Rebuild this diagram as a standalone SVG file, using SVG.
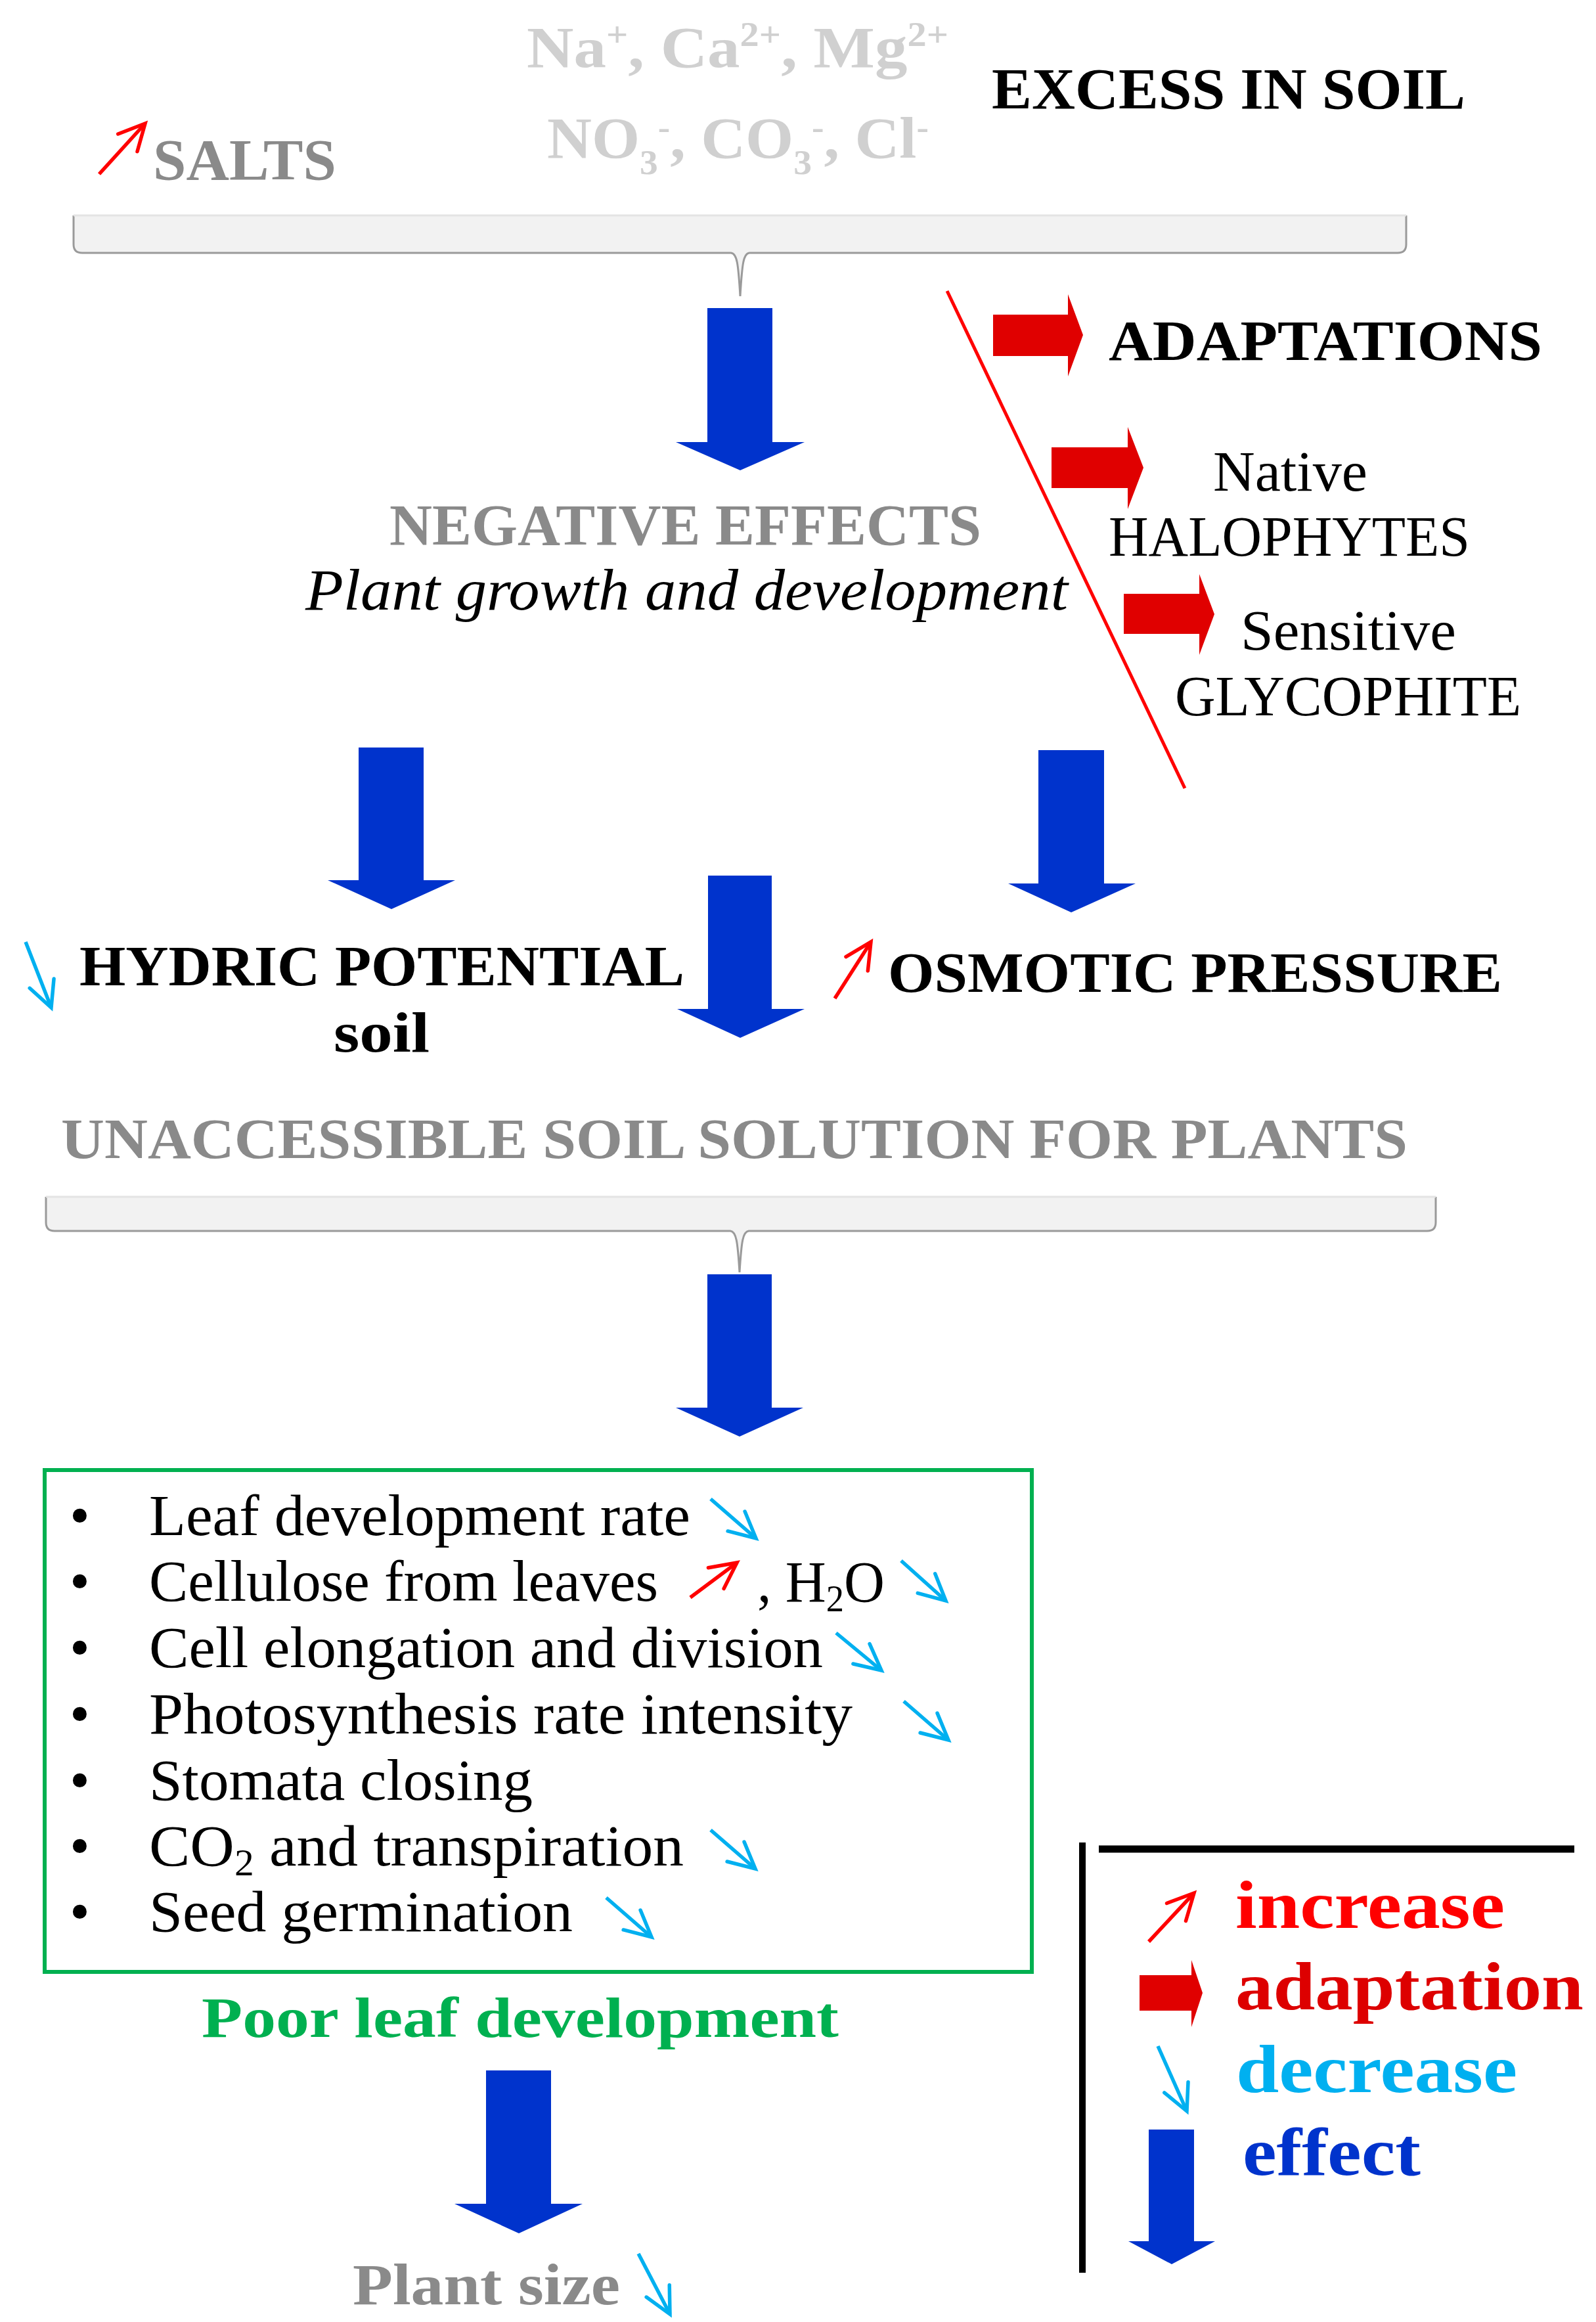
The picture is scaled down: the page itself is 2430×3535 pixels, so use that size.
<svg xmlns="http://www.w3.org/2000/svg" width="2430" height="3535" viewBox="0 0 2430 3535">
<defs>
<style>
.b{font-family:"Liberation Serif",serif;font-weight:bold}
.r{font-family:"Liberation Serif",serif}
.i{font-family:"Liberation Serif",serif;font-style:italic}
.gray{fill:#8a8a8a}
.ion{fill:#d0d0d0}
.blk{fill:#000}
.blue{fill:#0033cc}
.redf{fill:#e00000}
.inc{stroke:#ff0000;stroke-width:5.5;fill:none;marker-end:url(#mInc)}
.dec{stroke:#00b0f0;stroke-width:5.5;fill:none;marker-end:url(#mDec)}
.braceFill{fill:#f2f2f2;stroke:none}
.braceEdge{fill:none;stroke:#9a9a9a;stroke-width:3}
.braceTop{fill:none;stroke:#e4e4e4;stroke-width:3}
</style>
<marker id="mInc" viewBox="0 0 10 10" refX="10" refY="5" markerWidth="8" markerHeight="8" markerUnits="strokeWidth" orient="auto" overflow="visible">
<path d="M1,0.5 L10,5 L1,9.5" fill="none" stroke="#ff0000" stroke-width="1.25" stroke-linecap="round" stroke-linejoin="miter"/>
</marker>
<marker id="mDec" viewBox="0 0 10 10" refX="10" refY="5" markerWidth="8" markerHeight="8" markerUnits="strokeWidth" orient="auto" overflow="visible">
<path d="M1,0.5 L10,5 L1,9.5" fill="none" stroke="#00b0f0" stroke-width="1.25" stroke-linecap="round" stroke-linejoin="miter"/>
</marker>
</defs>
<rect width="2430" height="3535" fill="#fff"/>

<g id="salts">
<text class="b ion" x="802" y="102" font-size="88" textLength="642" lengthAdjust="spacingAndGlyphs">Na<tspan font-size="52" dy="-32">+</tspan><tspan dy="32">, Ca</tspan><tspan font-size="52" dy="-32">2+</tspan><tspan dy="32">, Mg</tspan><tspan font-size="52" dy="-32">2+</tspan></text>
<text class="b ion" x="833" y="240" font-size="88" textLength="581" lengthAdjust="spacingAndGlyphs">NO<tspan font-size="52" dy="25">3</tspan><tspan font-size="52" dy="-54">-</tspan><tspan dy="29">, CO</tspan><tspan font-size="52" dy="25">3</tspan><tspan font-size="52" dy="-54">-</tspan><tspan dy="29">, Cl</tspan><tspan font-size="52" dy="-29">-</tspan></text>
<text class="b blk" x="1510" y="165" font-size="88" textLength="721" lengthAdjust="spacingAndGlyphs">EXCESS IN SOIL</text>
<text class="b gray" x="233" y="273" font-size="88" textLength="279" lengthAdjust="spacingAndGlyphs">SALTS</text>
</g>

<g id="brace1">
<path class="braceFill" d="M112,328 V372 Q112,385 125,385 H1113 C1122,386 1124,400 1127,451 C1130,400 1132,386 1141,385 H2128 Q2141,385 2141,372 V328 Z"/>
<path class="braceEdge" d="M112,328 V372 Q112,385 125,385 H1113 C1122,386 1124,400 1127,451 C1130,400 1132,386 1141,385 H2128 Q2141,385 2141,372 V328"/>
<path class="braceTop" d="M112,328 H2141"/>
</g>

<g id="negative-effects">
<text class="b gray" x="593" y="829" font-size="88" textLength="901" lengthAdjust="spacingAndGlyphs">NEGATIVE EFFECTS</text>
<text class="i blk" x="465" y="928" font-size="88" textLength="1161" lengthAdjust="spacingAndGlyphs">Plant growth and development</text>
</g>

<g id="adaptations">
<text class="b blk" x="1688" y="548" font-size="86" textLength="660" lengthAdjust="spacingAndGlyphs">ADAPTATIONS</text>
</g>
<g id="halophytes">
<text class="r blk" x="1847" y="747" font-size="86" textLength="235" lengthAdjust="spacingAndGlyphs">Native</text>
<text class="r blk" x="1688" y="846" font-size="86" textLength="550" lengthAdjust="spacingAndGlyphs">HALOPHYTES</text>
</g>
<g id="glycophite">
<text class="r blk" x="1889" y="989" font-size="86" textLength="328" lengthAdjust="spacingAndGlyphs">Sensitive</text>
<text class="r blk" x="1789" y="1089" font-size="86" textLength="527" lengthAdjust="spacingAndGlyphs">GLYCOPHITE</text>
</g>

<g id="hydric-potential">
<text class="b blk" x="121" y="1500" font-size="86" textLength="921" lengthAdjust="spacingAndGlyphs">HYDRIC POTENTIAL</text>
<text class="b blk" x="508" y="1601" font-size="86" textLength="146" lengthAdjust="spacingAndGlyphs">soil</text>
</g>
<g id="osmotic-pressure">
<text class="b blk" x="1352" y="1510" font-size="86" textLength="935" lengthAdjust="spacingAndGlyphs">OSMOTIC PRESSURE</text>
</g>

<g id="unaccessible">
<text class="b gray" x="93" y="1763" font-size="86" textLength="2050" lengthAdjust="spacingAndGlyphs">UNACCESSIBLE SOIL SOLUTION FOR PLANTS</text>
</g>

<g id="brace2">
<path class="braceFill" d="M70,1822 V1861 Q70,1874 83,1874 H1112 C1121,1875 1123,1889 1126,1937 C1129,1889 1131,1875 1140,1874 H2173 Q2186,1874 2186,1861 V1822 Z"/>
<path class="braceEdge" d="M70,1822 V1861 Q70,1874 83,1874 H1112 C1121,1875 1123,1889 1126,1937 C1129,1889 1131,1875 1140,1874 H2173 Q2186,1874 2186,1861 V1822"/>
<path class="braceTop" d="M70,1822 H2186"/>
</g>

<g id="leaf-effects">
<rect x="68" y="2238" width="1503" height="764" fill="none" stroke="#00b050" stroke-width="6"/>
<g class="r blk" font-size="88">
<text x="106" y="2337">•</text>
<text x="106" y="2437">•</text>
<text x="106" y="2538">•</text>
<text x="106" y="2639">•</text>
<text x="106" y="2740">•</text>
<text x="106" y="2840">•</text>
<text x="106" y="2940">•</text>
<text x="227" y="2337" textLength="824" lengthAdjust="spacingAndGlyphs">Leaf development rate</text>
<text x="227" y="2437" textLength="775" lengthAdjust="spacingAndGlyphs">Cellulose from leaves</text>
<text x="1153" y="2438" textLength="194" lengthAdjust="spacingAndGlyphs">, H<tspan font-size="56" dy="15">2</tspan><tspan dy="-15">O</tspan></text>
<text x="227" y="2538" textLength="1026" lengthAdjust="spacingAndGlyphs">Cell elongation and division</text>
<text x="227" y="2639" textLength="1071" lengthAdjust="spacingAndGlyphs">Photosynthesis rate intensity</text>
<text x="227" y="2740" textLength="584" lengthAdjust="spacingAndGlyphs">Stomata closing</text>
<text x="227" y="2840" textLength="814" lengthAdjust="spacingAndGlyphs">CO<tspan font-size="56" dy="15">2</tspan><tspan dy="-15"> and transpiration</tspan></text>
<text x="227" y="2940" textLength="645" lengthAdjust="spacingAndGlyphs">Seed germination</text>
</g>
</g>

<g id="poor-leaf">
<text class="b" fill="#00b050" x="307" y="3101" font-size="86" textLength="970" lengthAdjust="spacingAndGlyphs">Poor leaf development</text>
</g>
<g id="plant-size">
<text class="b gray" x="537" y="3508" font-size="88" textLength="407" lengthAdjust="spacingAndGlyphs">Plant size</text>
</g>

<g id="legend">
<line x1="1648" y1="2805" x2="1648" y2="3460" stroke="#000" stroke-width="10"/>
<line x1="1673" y1="2815" x2="2397" y2="2815" stroke="#000" stroke-width="11"/>
<path class="inc" d="M1749,2956 L1818,2882"/>
<path class="redf" d="M1735,3007 H1814 V2984 L1831,3034 L1814,3086 V3061 H1735 Z"/>
<path class="dec" d="M1763,3115 L1807,3214"/>
<path class="blue" d="M1749,3242 H1818 V3412 H1850 L1784,3447 L1718,3412 H1749 Z"/>
<text class="b" fill="#ff0000" x="1881" y="2935" font-size="104" textLength="410" lengthAdjust="spacingAndGlyphs">increase</text>
<text class="b" fill="#dd0000" x="1881" y="3059" font-size="104" textLength="530" lengthAdjust="spacingAndGlyphs">adaptation</text>
<text class="b" fill="#00b0f0" x="1882" y="3185" font-size="104" textLength="428" lengthAdjust="spacingAndGlyphs">decrease</text>
<text class="b" fill="#0033cc" x="1892" y="3311" font-size="104" textLength="271" lengthAdjust="spacingAndGlyphs">effect</text>
</g>

<g id="connectors">
<path class="blue" d="M1077,469 H1176 V673 H1225 L1127,716 L1029,673 H1077 Z"/>
<path class="blue" d="M546,1138 H645 V1340 H693 L596,1384 L499,1340 H546 Z"/>
<path class="blue" d="M1581,1142 H1681 V1345 H1729 L1631,1389 L1535,1345 H1581 Z"/>
<path class="blue" d="M1078,1333 H1175 V1536 H1225 L1127,1580 L1031,1536 H1078 Z"/>
<path class="blue" d="M1077,1940 H1175 V2143 H1223 L1126,2187 L1029,2143 H1077 Z"/>
<path class="blue" d="M740,3152 H839 V3355 H887 L790,3400 L692,3355 H740 Z"/>
<line x1="1442" y1="443" x2="1804" y2="1200" stroke="#ff0000" stroke-width="5"/>
<path class="redf" d="M1512,479 H1626 V448 L1649,510 L1626,573 V542 H1512 Z"/>
<path class="redf" d="M1601,681 H1717 V650 L1741,712 L1717,775 V743 H1601 Z"/>
<path class="redf" d="M1711,904 H1826 V874 L1849,935 L1826,997 V965 H1711 Z"/>
<path class="inc" d="M151,265 L221,188"/>
<path class="inc" d="M1271,1520 L1326,1434"/>
<path class="inc" d="M1051,2432 L1122,2379"/>
<path class="dec" d="M39,1434 L78,1534"/>
<path class="dec" d="M1082,2282 L1151,2342"/>
<path class="dec" d="M1372,2376 L1440,2437"/>
<path class="dec" d="M1273,2486 L1342,2543"/>
<path class="dec" d="M1376,2590 L1444,2649"/>
<path class="dec" d="M1082,2786 L1150,2845"/>
<path class="dec" d="M923,2889 L992,2949"/>
<path class="dec" d="M972,3431 L1020,3523"/>
</g>
</svg>
